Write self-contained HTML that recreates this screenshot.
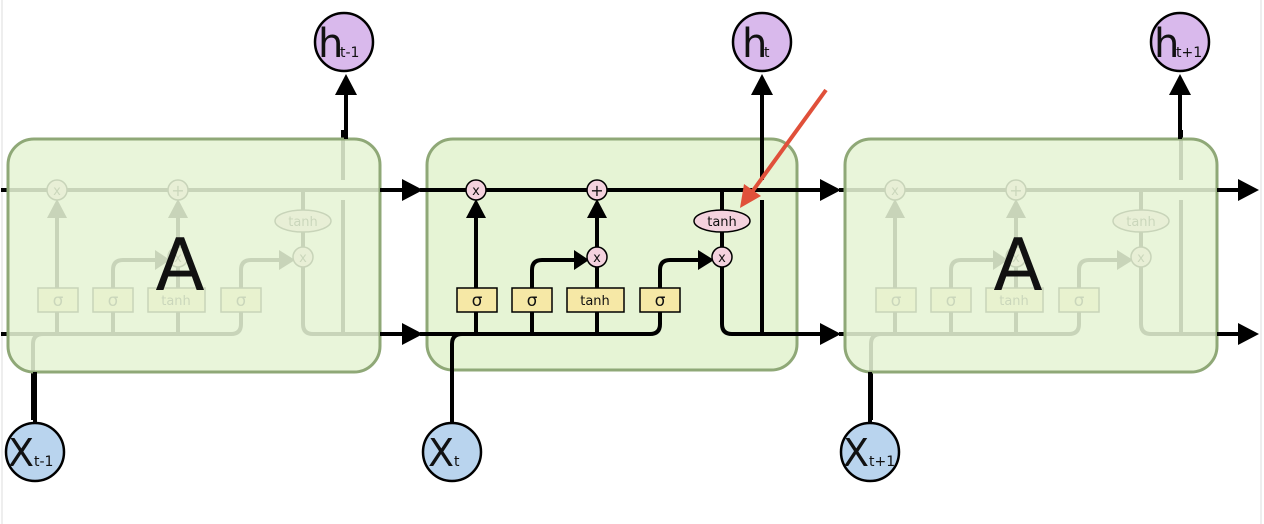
<!DOCTYPE html>
<html><head><meta charset="utf-8"><style>
html,body{margin:0;padding:0;background:#fff;width:1264px;height:524px;overflow:hidden}
text{font-family:"DejaVu Sans","Liberation Sans",sans-serif}
</style></head><body>
<svg width="1264" height="524" viewBox="0 0 1264 524" xmlns="http://www.w3.org/2000/svg">
<defs>
<marker id="ah" markerWidth="10" markerHeight="10" refX="8" refY="5" orient="auto" markerUnits="userSpaceOnUse" viewBox="0 0 10 10">
</marker>
<g id="cell">
  <g fill="none" stroke="#000" stroke-width="4">
    <line x1="420" y1="190" x2="800" y2="190"/>
    <path d="M420 334 H650 Q660 334 660 324 V270 Q660 260 670 260 H700"/>
    <path d="M452 420 V344 Q452 334 462 334"/>
    <line x1="476" y1="334" x2="476" y2="218"/>
    <path d="M532 334 V270 Q532 260 542 260 H574"/>
    <line x1="597" y1="334" x2="597" y2="218"/>
    <line x1="722" y1="190" x2="722" y2="250"/>
    <path d="M722 262 V324 Q722 334 732 334 H800"/>
    <line x1="762" y1="334" x2="762" y2="200"/>
    <line x1="762" y1="180" x2="762" y2="130"/>
  </g>
  <g fill="#000">
    <polygon points="466,218 486,218 476,199"/>
    <polygon points="587,218 607,218 597,199"/>
    <polygon points="574,250 574,270 589,260"/>
    <polygon points="698,250 698,270 714,260"/>
  </g>
  <g stroke="#000" stroke-width="1.5">
    <rect x="457" y="288" width="40" height="24" fill="#f6e8a6"/>
    <rect x="512" y="288" width="40" height="24" fill="#f6e8a6"/>
    <rect x="567" y="288" width="57" height="24" fill="#f6e8a6"/>
    <rect x="640" y="288" width="40" height="24" fill="#f6e8a6"/>
    <circle cx="476" cy="190" r="10" fill="#f4d2de"/>
    <circle cx="597" cy="190" r="10" fill="#f4d2de"/>
    <circle cx="597" cy="257" r="10" fill="#f4d2de"/>
    <circle cx="722" cy="257" r="10" fill="#f4d2de"/>
    <ellipse cx="722" cy="221" rx="28" ry="11" fill="#f4d2de"/>
  </g>
  <g font-size="17" text-anchor="middle" fill="#111">
    <text x="477" y="306">σ</text>
    <text x="532" y="306">σ</text>
    <text x="660" y="306">σ</text>
  </g>
  <g font-size="13" text-anchor="middle" fill="#111">
    <text x="595" y="305">tanh</text>
    <text x="722" y="226">tanh</text>
    <text x="476" y="195">x</text>
    <text x="597" y="262">x</text>
    <text x="722" y="262">x</text>
    <text x="597" y="196" font-size="16">+</text>
  </g>
</g>
</defs>

<!-- left faint border lines -->
<line x1="2" y1="0" x2="2" y2="524" stroke="#eee" stroke-width="2"/>
<line x1="1261" y1="0" x2="1261" y2="524" stroke="#eee" stroke-width="2"/>

<!-- middle cell -->
<rect x="427" y="139" width="370" height="231" rx="26" fill="#e6f4d5" stroke="#8fa877" stroke-width="3"/>
<use href="#cell"/>

<!-- faded cells -->
<use href="#cell" transform="translate(-419,0)"/>
<rect x="8" y="139" width="372" height="233" rx="26" fill="#e6f4d5" fill-opacity="0.87" stroke="#8fa877" stroke-width="3"/>
<use href="#cell" transform="translate(419,0)"/>
<rect x="845" y="139" width="372" height="233" rx="26" fill="#e6f4d5" fill-opacity="0.87" stroke="#8fa877" stroke-width="3"/>

<text x="180" y="290" font-size="72" text-anchor="middle" fill="#111" font-family="Liberation Sans, sans-serif">A</text>
<text x="1018" y="290" font-size="72" text-anchor="middle" fill="#111" font-family="Liberation Sans, sans-serif">A</text>

<!-- outside connectors -->
<g stroke="#000" stroke-width="4" fill="none">
  <line x1="380" y1="190" x2="404" y2="190"/>
  <line x1="380" y1="334" x2="404" y2="334"/>
  <line x1="797" y1="190" x2="822" y2="190"/>
  <line x1="797" y1="334" x2="822" y2="334"/>
  <line x1="1217" y1="190" x2="1240" y2="190"/>
  <line x1="1217" y1="334" x2="1240" y2="334"/>
  <line x1="346" y1="139" x2="346" y2="92"/>
  <line x1="762" y1="139" x2="762" y2="92"/>
  <line x1="1180" y1="139" x2="1180" y2="92"/>
  <line x1="35" y1="372" x2="35" y2="423"/>
  <line x1="452" y1="370" x2="452" y2="423"/>
  <line x1="870" y1="372" x2="870" y2="423"/>
</g>
<g fill="#000">
  <polygon points="402,179 402,201 423,190"/>
  <polygon points="402,323 402,345 423,334"/>
  <polygon points="820,179 820,201 841,190"/>
  <polygon points="820,323 820,345 841,334"/>
  <polygon points="1238,179 1238,201 1259,190"/>
  <polygon points="1238,323 1238,345 1259,334"/>
  <polygon points="335,95 357,95 346,74"/>
  <polygon points="751,95 773,95 762,74"/>
  <polygon points="1169,95 1191,95 1180,74"/>
</g>

<!-- red arrow -->
<line x1="826" y1="90" x2="752" y2="192" stroke="#e0503a" stroke-width="4"/>
<polygon points="740,208 744,184 761,196" fill="#e0503a"/>

<!-- h circles -->
<g stroke="#000" stroke-width="2.5" fill="#d9b9ec">
  <circle cx="344" cy="42" r="29"/>
  <circle cx="762" cy="42" r="29"/>
  <circle cx="1180" cy="42" r="29"/>
</g>
<g fill="#b9d4ee" stroke="#000" stroke-width="2.5">
  <circle cx="35" cy="452" r="29"/>
  <circle cx="452" cy="452" r="29"/>
  <circle cx="870" cy="452" r="29"/>
</g>
<g fill="#111" font-family="Liberation Sans, sans-serif">
  <text x="318" y="57" font-size="40">h</text><text x="340" y="57" font-size="14">t-1</text>
  <text x="742" y="57" font-size="40">h</text><text x="764" y="57" font-size="14">t</text>
  <text x="1154" y="57" font-size="40">h</text><text x="1176" y="57" font-size="14">t+1</text>
  <text x="8" y="466" font-size="38">X</text><text x="34" y="466" font-size="14">t-1</text>
  <text x="428" y="466" font-size="38">X</text><text x="454" y="466" font-size="14">t</text>
  <text x="843" y="466" font-size="38">X</text><text x="869" y="466" font-size="14">t+1</text>
</g>
</svg>
</body></html>
